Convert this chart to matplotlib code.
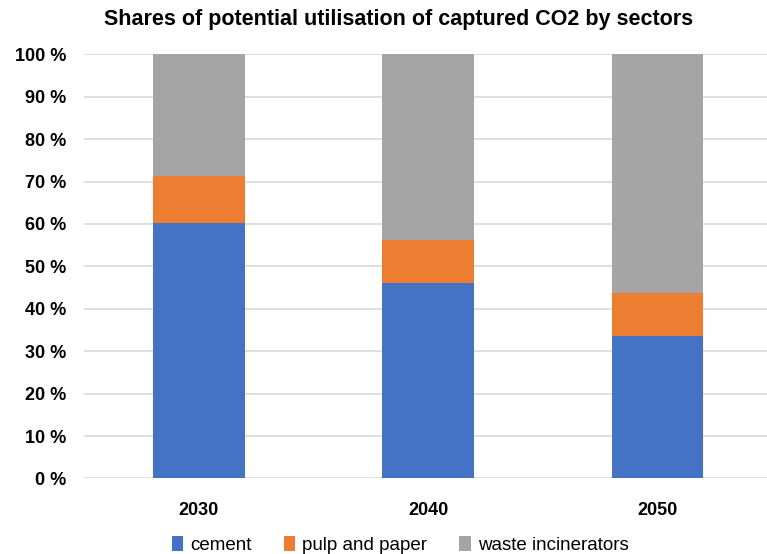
import matplotlib
matplotlib.use("Agg")
import matplotlib.pyplot as plt
import numpy as np
from matplotlib.ticker import FuncFormatter

# ---------------------------------------------------------------------------
# Data: shares (%) of captured CO2 utilisation by sector
# ---------------------------------------------------------------------------
years = ["2030", "2040", "2050"]
cement = [60.3, 46.2, 33.7]
pulp_paper = [11.1, 10.0, 10.0]
waste_incin = [28.6, 43.8, 56.3]

series = [
    ("cement", cement, "#4472C4"),
    ("pulp and paper", pulp_paper, "#ED7D31"),
    ("waste incinerators", waste_incin, "#A5A5A5"),
]

plt.rcParams["font.family"] = ["Liberation Sans Narrow", "Liberation Sans", "DejaVu Sans"]

fig = plt.figure(figsize=(7.67, 5.54), dpi=100)
ax = fig.add_axes([84 / 767, 0.1363, 1 - 84 / 767, 0.902 - 0.1363])

x = np.arange(len(years))
bottom = np.zeros(len(years))
for label, vals, color in series:
    ax.bar(x, vals, width=0.4, bottom=bottom, color=color, label=label, zorder=2)
    bottom += np.array(vals)

ax.set_ylim(0, 100)
ax.set_xlim(-0.5, 2.478)
ax.set_yticks(np.arange(0, 101, 10))
ax.yaxis.set_major_formatter(FuncFormatter(lambda v, _: f"{int(v)} %"))
ax.set_xticks(x)
ax.set_xticklabels(years)

ax.grid(axis="y", color="#D9D9D9", linewidth=1.2, zorder=0)
for side in ax.spines.values():
    side.set_visible(False)
ax.tick_params(axis="both", length=0, labelsize=13)
ax.tick_params(axis="y", pad=13)
ax.tick_params(axis="x", pad=17)
for t in ax.get_xticklabels() + ax.get_yticklabels():
    t.set_fontweight("bold")

fig.suptitle("Shares of potential utilisation of captured CO2 by sectors",
             fontsize=15.5, fontweight="bold", x=0.52, y=0.983)

ax.legend(loc="upper center", bbox_to_anchor=(0.463, -0.095), ncol=3,
          frameon=False, fontsize=13.5, handlelength=0.6, handleheight=0.9,
          handletextpad=0.4, columnspacing=1.7)

fig.savefig("out.png", dpi=100)
